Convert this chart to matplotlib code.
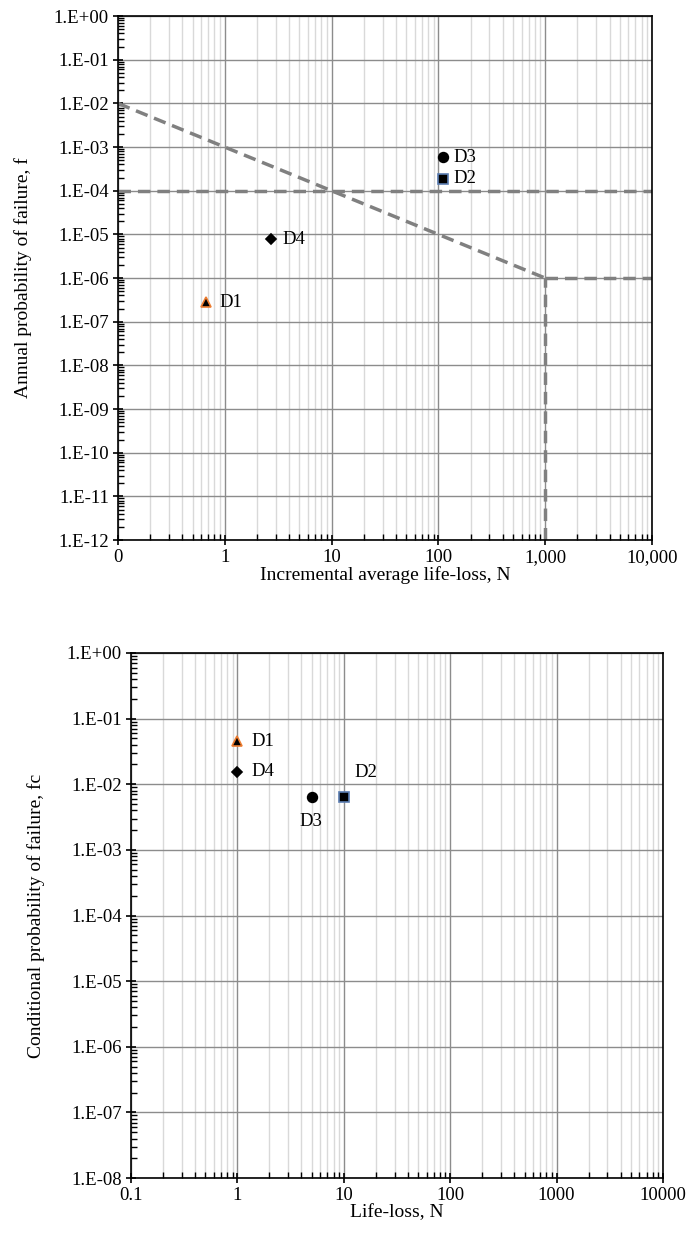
import math
import matplotlib.pyplot as plt
from matplotlib.ticker import FuncFormatter, LogLocator, NullFormatter

plt.rcParams['font.family'] = ['Liberation Serif', 'DejaVu Serif']

# top chart: annual probability vs incremental life-loss
names = ['D1', 'D2', 'D3', 'D4']
top_n = [0.66, 110, 110, 2.7]
top_f = [2.8e-7, 1.9e-4, 5.8e-4, 7.7e-6]

# guideline segments (N, f)
limit_n = [0.1, 1000, 10000]
limit_f = [1e-2, 1e-6, 1e-6]
hline_f = 1e-4
vline_n = 1000

# bottom chart: conditional probability vs life-loss
bot_n = [1, 10, 5, 1]
bot_fc = [0.045, 6.5e-3, 6.5e-3, 0.0155]

markers = {'D1': '^', 'D2': 's', 'D3': 'o', 'D4': 'D'}
msizes = {'D1': 7, 'D2': 7, 'D3': 7, 'D4': 5}
edges = {'D1': '#ED7D31', 'D2': '#5B7DB1', 'D3': 'black', 'D4': 'black'}

top_offsets = {'D1': (10, 0), 'D2': (8, 0), 'D3': (8, 0), 'D4': (8, 0)}
bot_offsets = {'D1': (10, 0), 'D4': (10, 0), 'D2': (8, 17), 'D3': (-9, -18)}

DASH = (0, (3.6, 2.0))


def yfmt(v, pos):
    e = int(round(math.log10(v)))
    return '1.E%s%02d' % ('+' if e >= 0 else '-', abs(e))


def style_axes(ax):
    ax.set_xscale('log')
    ax.set_yscale('log')
    ax.yaxis.set_major_locator(LogLocator(base=10, numticks=20))
    ax.yaxis.set_minor_locator(LogLocator(base=10, subs=range(2, 10), numticks=20))
    ax.yaxis.set_minor_formatter(NullFormatter())
    ax.yaxis.set_major_formatter(FuncFormatter(yfmt))
    ax.xaxis.set_minor_locator(LogLocator(base=10, subs=range(2, 10), numticks=20))
    ax.xaxis.set_minor_formatter(NullFormatter())
    ax.grid(which='major', color='#8c8c8c', lw=1.0)
    ax.grid(which='minor', axis='x', color='#d9d9d9', lw=1.0)
    ax.set_axisbelow(True)
    for s in ax.spines.values():
        s.set_color('black')
        s.set_linewidth(1.2)
    ax.tick_params(which='major', direction='inout', length=7, width=1.2,
                   labelsize=13.5, pad=3)
    ax.tick_params(which='minor', direction='in', length=4, width=1)


fig = plt.figure(figsize=(6.94, 12.36), dpi=100)

ax1 = fig.add_axes([0.170, 0.563, 0.7695, 0.424])
style_axes(ax1)
ax1.set_xlim(0.1, 10000)
ax1.set_ylim(1e-12, 1)
top_xlabels = {0.1: '0', 1: '1', 10: '10', 100: '100', 1000: '1,000', 10000: '10,000'}
ax1.set_xticks(list(top_xlabels.keys()))
ax1.set_xticklabels(list(top_xlabels.values()))
ax1.plot(limit_n[:2], limit_f[:2], ls=DASH, color='#808080', lw=2.5, zorder=2)
ax1.plot(limit_n[1:], limit_f[1:], ls=DASH, color='#808080', lw=2.5, zorder=2)
ax1.plot([0.1, 10000], [hline_f, hline_f], ls=DASH, color='#808080', lw=2.5, zorder=2)
ax1.plot([vline_n, vline_n], [1e-12, limit_f[1]], ls=DASH, color='#808080', lw=2.5, zorder=2)
for nm, x, y in zip(names, top_n, top_f):
    ax1.plot(x, y, marker=markers[nm], ms=msizes[nm], color='black',
             mec=edges[nm], mew=1.2, ls='none', zorder=3)
    ax1.annotate(nm, (x, y), xytext=top_offsets[nm], textcoords='offset points',
                 ha='left', va='center', fontsize=13.5)
ax1.set_xlabel('Incremental average life-loss, N', fontsize=14, labelpad=0)
ax1.set_ylabel('Annual probability of failure, f', fontsize=14, labelpad=16)

ax2 = fig.add_axes([0.1888, 0.0469, 0.7666, 0.4248])
style_axes(ax2)
ax2.set_xlim(0.1, 10000)
ax2.set_ylim(1e-8, 1)
bot_xlabels = {0.1: '0.1', 1: '1', 10: '10', 100: '100', 1000: '1000', 10000: '10000'}
ax2.set_xticks(list(bot_xlabels.keys()))
ax2.set_xticklabels(list(bot_xlabels.values()))
for nm, x, y in zip(names, bot_n, bot_fc):
    ax2.plot(x, y, marker=markers[nm], ms=msizes[nm], color='black',
             mec=edges[nm], mew=1.2, ls='none', zorder=3)
    dx, dy = bot_offsets[nm]
    ax2.annotate(nm, (x, y), xytext=(dx, dy), textcoords='offset points',
                 ha='left', va='center', fontsize=13.5)
ax2.set_xlabel('Life-loss, N', fontsize=14, labelpad=0)
ax2.set_ylabel('Conditional probability of failure, fc', fontsize=14, labelpad=16)

fig.savefig('out.png', dpi=100)
